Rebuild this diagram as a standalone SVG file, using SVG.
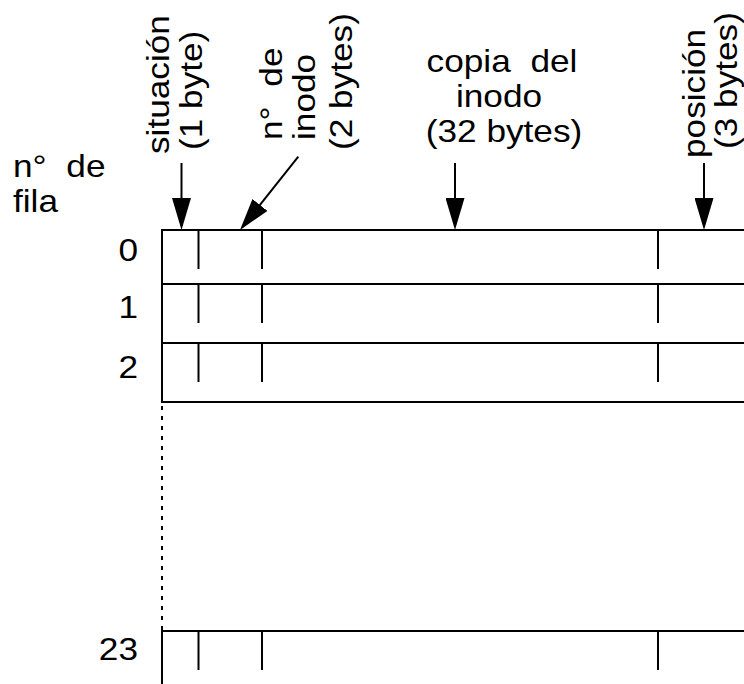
<svg xmlns="http://www.w3.org/2000/svg" width="744" height="684" viewBox="0 0 744 684">
<style>
  text { font-family: "Liberation Sans", Arial, Helvetica, sans-serif; font-size: 32px; fill: #000; }
  .ln { stroke: #000; stroke-width: 2; fill: none; }
  .dot { stroke: #000; stroke-width: 2; fill: none; stroke-dasharray: 4 6; }
  .arr { stroke: #000; stroke-width: 2; fill: none; marker-end: url(#ah); }
  .mid { text-anchor: middle; }
  .end { text-anchor: end; }
</style>
<defs>
  <marker id="ah" viewBox="0 0 32 19" refX="28" refY="9.5" markerWidth="32" markerHeight="19" markerUnits="userSpaceOnUse" orient="auto">
    <path d="M0,0 L32,9.5 L0,19 Z" fill="#000"/>
  </marker>
</defs>
<rect x="0" y="0" width="744" height="684" fill="#fff"/>

<g id="table">
  <line class="ln" x1="162" y1="230" x2="744" y2="230"/>
  <line class="ln" x1="162" y1="284" x2="744" y2="284"/>
  <line class="ln" x1="162" y1="343" x2="744" y2="343"/>
  <line class="ln" x1="162" y1="402" x2="744" y2="402"/>
  <line class="ln" x1="162" y1="631" x2="744" y2="631"/>
  <line class="ln" x1="162" y1="229" x2="162" y2="403"/>
  <line class="dot" x1="162" y1="406" x2="162" y2="630"/>
  <line class="ln" x1="162" y1="630" x2="162" y2="684"/>
  <g id="ticks">
    <line class="ln" x1="198.5" y1="230" x2="198.5" y2="269"/>
    <line class="ln" x1="262" y1="230" x2="262" y2="269"/>
    <line class="ln" x1="658" y1="230" x2="658" y2="269"/>
    <line class="ln" x1="198.5" y1="284" x2="198.5" y2="323"/>
    <line class="ln" x1="262" y1="284" x2="262" y2="323"/>
    <line class="ln" x1="658" y1="284" x2="658" y2="323"/>
    <line class="ln" x1="198.5" y1="343" x2="198.5" y2="382"/>
    <line class="ln" x1="262" y1="343" x2="262" y2="382"/>
    <line class="ln" x1="658" y1="343" x2="658" y2="382"/>
    <line class="ln" x1="198.5" y1="631" x2="198.5" y2="670"/>
    <line class="ln" x1="262" y1="631" x2="262" y2="670"/>
    <line class="ln" x1="658" y1="631" x2="658" y2="670"/>
  </g>
</g>

<g id="row-labels">
  <text transform="translate(13,177) scale(1.1,1)" word-spacing="9">n° de</text>
  <text transform="translate(13,212) scale(1.1,1)">fila</text>
  <text class="end" transform="translate(138,261) scale(1.1,1)">0</text>
  <text class="end" transform="translate(138,318) scale(1.1,1)">1</text>
  <text class="end" transform="translate(138,378) scale(1.1,1)">2</text>
  <text class="end" transform="translate(138,660) scale(1.1,1)">23</text>
</g>

<g id="label-situacion">
  <text transform="translate(169,154) rotate(-90) scale(1.1,1)">situación</text>
  <text transform="translate(202,150) rotate(-90) scale(1.1,1)">(1 byte)</text>
</g>

<g id="label-inodo">
  <text transform="translate(282,140) rotate(-90) scale(1.1,1)" word-spacing="9">n° de</text>
  <text transform="translate(315,140) rotate(-90) scale(1.1,1)">inodo</text>
  <text transform="translate(352,150) rotate(-90) scale(1.1,1)">(2 bytes)</text>
</g>

<g id="label-copia">
  <text class="mid" transform="translate(502,72) scale(1.1,1)" word-spacing="9">copia del</text>
  <text class="mid" transform="translate(499,107) scale(1.1,1)">inodo</text>
  <text class="mid" transform="translate(504,142) scale(1.1,1)">(32 bytes)</text>
</g>

<g id="label-posicion">
  <text transform="translate(705,158) rotate(-90) scale(1.1,1)">posición</text>
  <text transform="translate(737,149) rotate(-90) scale(1.1,1)">(3 bytes)</text>
</g>

<g id="connectors">
  <line class="arr" x1="181.5" y1="163" x2="181.5" y2="226"/>
  <line class="arr" x1="298.3" y1="156.7" x2="242.5" y2="226.9"/>
  <line class="arr" x1="455" y1="163" x2="455" y2="226"/>
  <line class="arr" x1="704" y1="163" x2="704" y2="226"/>
</g>
</svg>
